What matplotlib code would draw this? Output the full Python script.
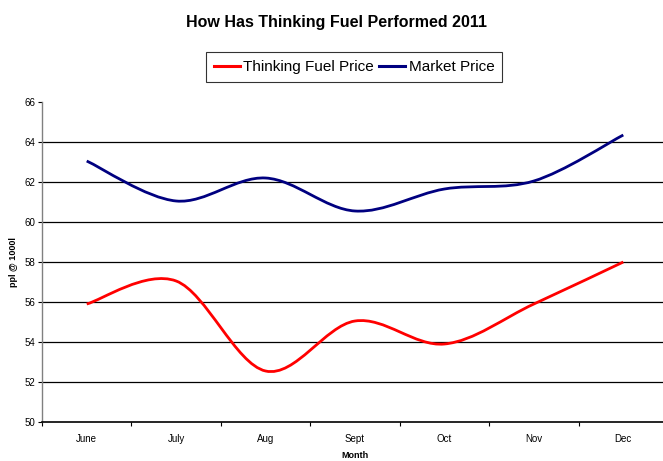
import numpy as np
import matplotlib.pyplot as plt
from matplotlib.path import Path
from matplotlib.patches import PathPatch
from matplotlib.lines import Line2D

months = ['June', 'July', 'Aug', 'Sept', 'Oct', 'Nov', 'Dec']
thinking_fuel = [55.9, 57.05, 52.55, 55.05, 53.9, 55.9, 58.0]
market = [63.05, 61.05, 62.2, 60.55, 61.65, 62.05, 64.35]
yticks = [50, 52, 54, 56, 58, 60, 62, 64, 66]

plt.rcParams['font.family'] = ['Liberation Sans', 'DejaVu Sans']


def smooth_path(xs, ys):
    # Excel-style smoothed line: cubic Bezier segments through each point
    pts = np.column_stack([xs, ys]).astype(float)
    n = len(pts)
    verts = [pts[0]]
    codes = [Path.MOVETO]
    for i in range(n - 1):
        p0 = pts[max(i - 1, 0)]
        p1 = pts[i]
        p2 = pts[i + 1]
        p3 = pts[min(i + 2, n - 1)]
        c1 = p1 + (p2 - p0) / 6.0
        c2 = p2 - (p3 - p1) / 6.0
        verts += [c1, c2, p2]
        codes += [Path.CURVE4] * 3
    return Path(verts, codes)


fig = plt.figure(figsize=(6.63, 4.61), dpi=100)
ax = fig.add_axes([42 / 663, 1 - 422 / 461, 626 / 663, 320 / 461])

x = np.arange(len(months))
for vals, col in [(thinking_fuel, '#ff0000'), (market, '#000080')]:
    ax.add_patch(PathPatch(smooth_path(x, vals), facecolor='none',
                           edgecolor=col, lw=2.0, capstyle='butt'))

for v in yticks[1:-1]:
    ax.axhline(v, color='black', lw=0.9, zorder=0)

ax.set_xlim(-0.5, len(months) - 0.5)
ax.set_ylim(50, 66)
ax.set_yticks(yticks)
ax.set_yticklabels([str(v) for v in yticks], fontsize=7)
ax.set_xticks(np.arange(-0.5, len(months), 1.0))
ax.set_xticklabels([])
ax.set_xticks(x, minor=True)
ax.set_xticklabels(months, minor=True, fontsize=7)
ax.tick_params(axis='x', which='minor', length=0, pad=9)
ax.tick_params(axis='x', which='major', length=3, width=0.8)
ax.tick_params(axis='y', length=3, width=0.8, pad=2)

ax.spines['top'].set_visible(False)
ax.spines['right'].set_visible(False)
ax.spines['left'].set_color('#808080')
ax.spines['left'].set_linewidth(1.0)
ax.spines['bottom'].set_linewidth(1.2)

ax.set_ylabel('ppl @ 1000l', fontsize=6.5, fontweight='bold', labelpad=4)
fig.text(355 / 663, 1 - 455 / 461, 'Month', fontsize=6.5, fontweight='bold',
         ha='center', va='center')

fig.text(336 / 663, 1 - 22 / 461, 'How Has Thinking Fuel Performed 2011',
         fontsize=11.5, fontweight='bold', ha='center', va='center')

handles = [Line2D([], [], color='#ff0000', lw=2.2),
           Line2D([], [], color='#000080', lw=2.2)]
leg = fig.legend(handles, ['Thinking Fuel Price', 'Market Price'],
                 loc='center', bbox_to_anchor=(354 / 663, 1 - 67 / 461),
                 ncol=2, frameon=True, fancybox=False,
                 prop={'size': 11},
                 handlelength=1.7, handletextpad=0.25, columnspacing=0.3,
                 borderpad=0.5, borderaxespad=0)
leg.get_frame().set_edgecolor('black')
leg.get_frame().set_linewidth(0.8)

fig.savefig('out.png', dpi=100)
